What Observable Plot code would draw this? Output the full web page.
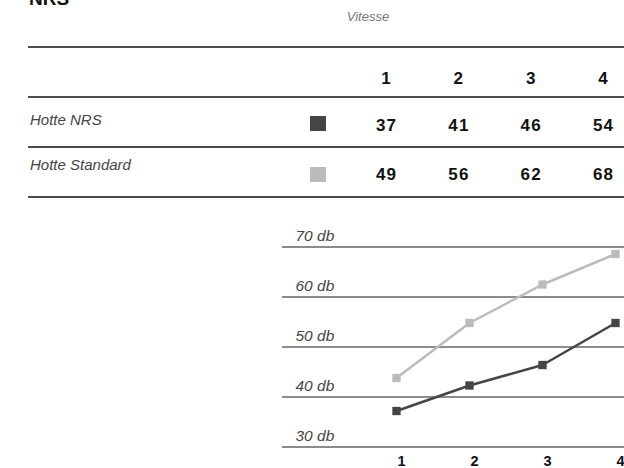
<!DOCTYPE html>
<html><head><meta charset="utf-8">
<script src="https://cdn.jsdelivr.net/npm/d3@7"></script>
<script src="https://cdn.jsdelivr.net/npm/@observablehq/plot@0.6"></script>
<style>
html,body{margin:0;padding:0;background:#fff;}
#wrap{position:relative;width:624px;height:468px;overflow:hidden;font-family:"Liberation Sans",Arial,sans-serif;}
.t{position:absolute;white-space:nowrap;line-height:1;}
.rule{position:absolute;left:28px;width:596px;height:1.5px;background:#4d4d4d;}
.sw{position:absolute;width:16px;height:15px;}
#chart{position:absolute;left:0;top:200px;}
</style></head><body><div id="wrap"><div id="chart"></div></div>
<script>
const title = "NRS";
const headerLabel = "Vitesse";
const speeds = [1, 2, 3, 4];
const series = ["Hotte NRS", "Hotte Standard"];
const seriesColors = ["#454545", "#bbbbbb"];
const tableNRS = [37, 41, 46, 54];
const tableStandard = [49, 56, 62, 68];
// values as plotted in the line chart
const chartNRS = [37.2, 42.3, 46.4, 54.8];
const chartStandard = [43.8, 54.8, 62.5, 68.6];
const yTicks = [30, 40, 50, 60, 70];
const yUnit = "db";

const wrap = document.getElementById("wrap");
function txt(str, o) {
  const d = document.createElement("div");
  d.className = "t";
  d.textContent = str;
  const size = o.size, ls = o.ls || 0;
  d.style.fontSize = size + "px";
  d.style.fontWeight = o.weight || "normal";
  d.style.fontStyle = o.style || "normal";
  d.style.color = o.color || "#111";
  if (ls) d.style.letterSpacing = ls + "px";
  d.style.top = (o.baseline - 0.8465 * size) + "px";
  if (o.anchor === "middle") {
    d.style.left = (o.x - 100 + ls / 2) + "px";
    d.style.width = "200px";
    d.style.textAlign = "center";
  } else {
    d.style.left = o.x + "px";
  }
  wrap.appendChild(d);
}
function rule(y) {
  const d = document.createElement("div");
  d.className = "rule";
  d.style.top = y + "px";
  wrap.appendChild(d);
}

// title (cut at top as in the reference)
txt(title, {x: 29, baseline: 5, size: 19, weight: "bold", color: "#111"});
txt(headerLabel, {x: 368, baseline: 21.5, size: 13, style: "italic", color: "#777", anchor: "middle"});
[46, 96, 146, 196].forEach(rule);

const col = d3.scalePoint().domain(speeds).range([386, 603]);
speeds.forEach(s => txt(String(s), {x: col(s), baseline: 84, size: 17, weight: "bold", ls: 1.2, anchor: "middle"}));

const rows = [
  {label: series[0], color: seriesColors[0], vals: tableNRS, lb: 125, vb: 131.7, sq: 116},
  {label: series[1], color: seriesColors[1], vals: tableStandard, lb: 169.5, vb: 180.7, sq: 167}
];
rows.forEach(r => {
  txt(r.label, {x: 30, baseline: r.lb, size: 15, style: "italic", color: "#444"});
  const sw = document.createElement("div");
  sw.className = "sw";
  sw.style.left = "310px";
  sw.style.top = r.sq + "px";
  sw.style.background = r.color;
  wrap.appendChild(sw);
  r.vals.forEach((v, i) => txt(String(v), {x: col(speeds[i]), baseline: r.vb, size: 17, weight: "bold", ls: 1.2, anchor: "middle"}));
});

const data = speeds.flatMap((s, i) => [
  {speed: s, db: chartStandard[i], series: series[1]},
  {speed: s, db: chartNRS[i], series: series[0]}
]);

const chart = Plot.plot({
  width: 624, height: 268,
  marginLeft: 282, marginRight: 0, marginTop: 46.5, marginBottom: 21.5,
  x: {domain: [1, 4], range: [396, 615]},
  y: {domain: [30, 70]},
  color: {domain: series, range: seriesColors},
  style: {fontFamily: '"Liberation Sans",Arial,sans-serif', fontSize: "15px", color: "#444", overflow: "visible", background: "transparent"},
  marks: [
    Plot.ruleY(yTicks, {stroke: "#1a1a1a", strokeWidth: 1.2}),
    Plot.axisY(yTicks, {tickSize: 0, tickPadding: 0, textAnchor: "start", dx: 13, dy: -6, lineAnchor: "bottom",
      tickFormat: d => `${d} ${yUnit}`, fontStyle: "italic", fill: "#444", fontSize: 15.5, label: null}),
    Plot.axisX(speeds, {tickSize: 0, tickPadding: 9, dx: 5, fontWeight: "bold", fill: "#111", fontSize: 14.5,
      tickFormat: d => String(d), label: null}),
    Plot.line(data, {x: "speed", y: "db", z: "series", stroke: "series", strokeWidth: 2.5}),
    Plot.dot(data, {x: "speed", y: "db", fill: "series", symbol: "square", r: 4.7})
  ]
});
document.getElementById("chart").appendChild(chart);
</script>
</body></html>
